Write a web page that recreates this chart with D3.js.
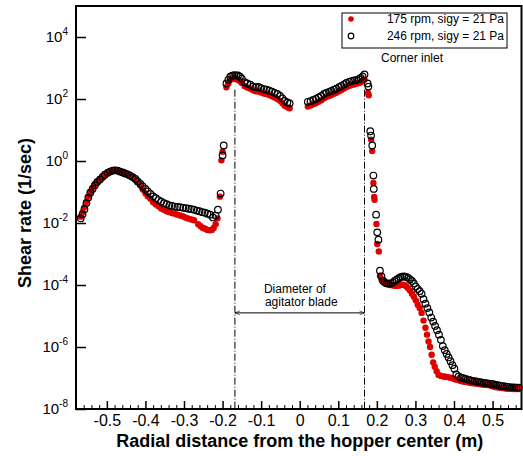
<!DOCTYPE html>
<html>
<head>
<meta charset="utf-8">
<script src="https://cdn.jsdelivr.net/npm/d3@7"></script>
<style>
  body { margin: 0; background: #fff; }
  text { font-family: "Liberation Sans", Arial, sans-serif; }
</style>
</head>
<body>
<div id="chart"></div>
<script>
// series 1: 175 rpm, sigy = 21 Pa  [radial distance (m), shear rate (1/sec)]
const rpm175 = [
  [-0.568, 1.6e-2], [-0.563, 2.2e-2], [-0.558, 3.2e-2], [-0.553, 4.8e-2], [-0.548, 7.1e-2],
  [-0.543, 0.100], [-0.537, 0.132], [-0.531, 0.174], [-0.525, 0.219], [-0.518, 0.263],
  [-0.511, 0.316], [-0.505, 0.372], [-0.498, 0.427], [-0.492, 0.468], [-0.485, 0.501],
  [-0.479, 0.513], [-0.472, 0.501], [-0.466, 0.468], [-0.459, 0.437], [-0.453, 0.407],
  [-0.446, 0.372], [-0.440, 0.331], [-0.433, 0.295], [-0.426, 0.251], [-0.420, 0.209],
  [-0.413, 0.166], [-0.407, 0.120], [-0.400, 0.0912], [-0.394, 0.0724], [-0.387, 0.0603],
  [-0.380, 0.0468], [-0.373, 0.0398], [-0.366, 0.0347], [-0.359, 0.0295], [-0.352, 0.0269],
  [-0.345, 0.0240], [-0.338, 0.0224], [-0.331, 0.0209], [-0.324, 0.0200], [-0.317, 0.0186],
  [-0.310, 0.0174], [-0.302, 0.0162], [-0.295, 0.0148], [-0.288, 0.0138], [-0.281, 0.0129],
  [-0.274, 0.0123], [-0.263, 9.1e-3], [-0.257, 7.9e-3], [-0.251, 6.9e-3], [-0.245, 6.5e-3],
  [-0.239, 6.0e-3], [-0.233, 5.8e-3], [-0.228, 6.0e-3], [-0.223, 6.9e-3], [-0.218, 9.1e-3],
  [-0.213, 0.0141], [-0.207, 0.0708], [-0.203, 1.05], [-0.200, 2.0],
  [-0.190, 240], [-0.185, 316], [-0.180, 417], [-0.175, 457], [-0.170, 457],
  [-0.165, 437], [-0.160, 417], [-0.155, 380], [-0.150, 331], [-0.143, 263],
  [-0.136, 234], [-0.128, 214], [-0.121, 191], [-0.114, 178], [-0.107, 174],
  [-0.100, 162], [-0.093, 151], [-0.086, 145], [-0.079, 135], [-0.072, 123],
  [-0.065, 112], [-0.058, 100], [-0.051, 87.1], [-0.045, 72.4], [-0.039, 60.3],
  [-0.032, 53.7], [-0.026, 50.1],
  [0.021, 57.5], [0.028, 61.7], [0.035, 67.6], [0.042, 72.4], [0.049, 81.3],
  [0.056, 91.2], [0.063, 105], [0.069, 115], [0.076, 126], [0.082, 135],
  [0.089, 148], [0.095, 158], [0.102, 178], [0.108, 195], [0.115, 219],
  [0.121, 245], [0.128, 263], [0.134, 282], [0.141, 295], [0.147, 309],
  [0.153, 324], [0.158, 347], [0.163, 380], [0.168, 417],
  [0.177, 158], [0.179, 132], [0.185, 4.9], [0.188, 2.09], [0.191, 0.195],
  [0.193, 0.0692], [0.194, 0.0562], [0.199, 9.3e-3], [0.201, 2.1e-3], [0.205, 1.2e-3],
  [0.208, 2.0e-4], [0.212, 1.51e-4], [0.216, 1.29e-4], [0.221, 1.17e-4], [0.226, 1.1e-4],
  [0.231, 1.05e-4], [0.236, 1.0e-4], [0.241, 9.8e-5], [0.246, 9.5e-5], [0.251, 9.5e-5],
  [0.256, 9.5e-5], [0.261, 1.0e-4], [0.266, 1.02e-4], [0.271, 1.0e-4], [0.276, 9.1e-5],
  [0.281, 7.9e-5], [0.286, 6.6e-5], [0.291, 5.2e-5], [0.296, 4.2e-5], [0.301, 3.2e-5],
  [0.306, 2.3e-5], [0.311, 1.8e-5], [0.316, 1.26e-5], [0.321, 7.1e-6], [0.326, 4.2e-6],
  [0.330, 2.5e-6], [0.334, 1.5e-6], [0.338, 1.0e-6], [0.342, 5.6e-7], [0.346, 3.2e-7],
  [0.350, 2.3e-7], [0.355, 1.66e-7], [0.360, 1.26e-7], [0.366, 1.17e-7], [0.372, 1.12e-7],
  [0.378, 1.1e-7], [0.384, 1.07e-7], [0.390, 1.02e-7], [0.396, 9.8e-8], [0.402, 9.1e-8],
  [0.408, 8.7e-8], [0.414, 8.3e-8], [0.420, 7.9e-8], [0.426, 7.6e-8], [0.432, 7.4e-8],
  [0.438, 7.1e-8], [0.444, 6.9e-8], [0.450, 6.8e-8], [0.456, 6.6e-8], [0.462, 6.5e-8],
  [0.468, 6.3e-8], [0.474, 6.2e-8], [0.480, 6.0e-8], [0.486, 5.9e-8], [0.492, 5.8e-8],
  [0.498, 5.5e-8], [0.504, 5.2e-8], [0.510, 5.0e-8], [0.516, 4.9e-8], [0.522, 4.8e-8],
  [0.528, 4.7e-8], [0.534, 4.6e-8], [0.540, 4.5e-8], [0.546, 4.5e-8], [0.552, 4.4e-8],
  [0.558, 4.4e-8], [0.564, 4.4e-8], [0.568, 4.4e-8]
];

// series 2: 246 rpm, sigy = 21 Pa
const rpm246 = [
  [-0.568, 1.4e-2], [-0.563, 1.9e-2], [-0.558, 2.8e-2], [-0.553, 4.4e-2], [-0.548, 6.6e-2],
  [-0.543, 9.5e-2], [-0.537, 0.126], [-0.531, 0.166], [-0.525, 0.209], [-0.518, 0.251],
  [-0.511, 0.309], [-0.505, 0.363], [-0.498, 0.417], [-0.492, 0.457], [-0.485, 0.490],
  [-0.479, 0.501], [-0.472, 0.490], [-0.466, 0.457], [-0.459, 0.427], [-0.453, 0.398],
  [-0.446, 0.372], [-0.440, 0.339], [-0.433, 0.302], [-0.426, 0.263], [-0.420, 0.219],
  [-0.413, 0.182], [-0.407, 0.151], [-0.400, 0.126], [-0.394, 0.105], [-0.387, 0.0871],
  [-0.380, 0.0724], [-0.373, 0.0631], [-0.366, 0.0550], [-0.359, 0.0490], [-0.352, 0.0437],
  [-0.345, 0.0407], [-0.338, 0.0372], [-0.331, 0.0355], [-0.324, 0.0339], [-0.317, 0.0331],
  [-0.310, 0.0324], [-0.302, 0.0309], [-0.295, 0.0302], [-0.288, 0.0288], [-0.281, 0.0282],
  [-0.274, 0.0269], [-0.267, 0.0251], [-0.260, 0.0240], [-0.253, 0.0224], [-0.246, 0.0214],
  [-0.239, 0.0200], [-0.232, 0.0186], [-0.225, 0.0151], [-0.218, 0.0174], [-0.212, 0.0269],
  [-0.205, 0.0891], [-0.200, 1.51], [-0.197, 3.16],
  [-0.190, 316], [-0.185, 417], [-0.180, 525], [-0.175, 562], [-0.170, 589],
  [-0.165, 575], [-0.160, 575], [-0.155, 525], [-0.150, 457], [-0.143, 347],
  [-0.136, 316], [-0.128, 288], [-0.121, 251], [-0.114, 240], [-0.107, 245],
  [-0.100, 224], [-0.093, 209], [-0.086, 200], [-0.079, 186], [-0.072, 174],
  [-0.065, 158], [-0.058, 145], [-0.051, 126], [-0.045, 105], [-0.039, 87.1],
  [-0.032, 77.6], [-0.026, 72.4],
  [0.021, 81.3], [0.028, 85.1], [0.035, 93.3], [0.042, 100], [0.049, 112],
  [0.056, 126], [0.063, 145], [0.069, 158], [0.076, 170], [0.082, 182],
  [0.089, 200], [0.095, 214], [0.102, 240], [0.108, 263], [0.115, 295],
  [0.121, 331], [0.128, 355], [0.134, 380], [0.141, 398], [0.147, 407],
  [0.153, 437], [0.158, 479], [0.163, 537], [0.168, 617],
  [0.176, 316], [0.178, 251], [0.183, 9.12], [0.185, 6.61], [0.188, 3.16],
  [0.191, 0.339], [0.192, 0.126], [0.198, 0.0186], [0.201, 5.0e-3], [0.204, 2.9e-3],
  [0.208, 2.9e-4], [0.212, 1.9e-4], [0.216, 1.38e-4], [0.221, 1.2e-4], [0.226, 1.12e-4],
  [0.231, 1.1e-4], [0.236, 1.12e-4], [0.241, 1.2e-4], [0.246, 1.35e-4], [0.251, 1.48e-4],
  [0.256, 1.62e-4], [0.261, 1.78e-4], [0.266, 1.86e-4], [0.271, 1.9e-4], [0.276, 1.82e-4],
  [0.281, 1.7e-4], [0.286, 1.51e-4], [0.291, 1.35e-4], [0.296, 1.12e-4], [0.301, 8.9e-5],
  [0.306, 7.4e-5], [0.311, 6.3e-5], [0.316, 5.2e-5], [0.321, 3.5e-5], [0.326, 2.5e-5],
  [0.331, 1.8e-5], [0.336, 1.3e-5], [0.341, 8.9e-6], [0.346, 6.6e-6], [0.351, 4.8e-6],
  [0.356, 3.5e-6], [0.361, 2.5e-6], [0.366, 1.7e-6], [0.371, 1.07e-6], [0.376, 7.9e-7],
  [0.381, 6.0e-7], [0.386, 4.6e-7], [0.391, 3.5e-7], [0.396, 2.6e-7], [0.401, 2.0e-7],
  [0.406, 1.3e-7], [0.412, 1.12e-7], [0.418, 1.02e-7], [0.424, 9.8e-8], [0.430, 9.3e-8],
  [0.436, 8.9e-8], [0.442, 8.5e-8], [0.448, 8.1e-8], [0.454, 7.9e-8], [0.460, 7.6e-8],
  [0.466, 7.4e-8], [0.472, 7.2e-8], [0.478, 6.9e-8], [0.484, 6.8e-8], [0.490, 6.6e-8],
  [0.496, 6.5e-8], [0.502, 6.3e-8], [0.508, 6.0e-8], [0.514, 5.9e-8], [0.520, 5.6e-8],
  [0.526, 5.5e-8], [0.532, 5.4e-8], [0.538, 5.2e-8], [0.544, 5.1e-8], [0.550, 5.0e-8],
  [0.556, 5.0e-8], [0.562, 4.9e-8], [0.568, 4.9e-8]
];

const seriesLabels = ["175 rpm, sigy = 21 Pa", "246 rpm, sigy = 21 Pa"];
const xMajorTicks = [-0.5, -0.4, -0.3, -0.2, -0.1, 0, 0.1, 0.2, 0.3, 0.4, 0.5];
const yTickExponents = [-8, -6, -4, -2, 0, 2, 4];
const bladeEdges = [-0.168, 0.168];   // agitator blade edges (m)
const bladeArrowLevel = 1.26e-5;      // height of the dimension arrow
const bladeLineTop = 200;             // dash-dot lines start just under the peak
const bladeNote = ["Diameter of", "agitator blade"];

// layout
const W = 523, H = 456;
const margin = { top: 6, right: 1.5, bottom: 47, left: 76 };
const width = W - margin.left - margin.right;
const height = H - margin.top - margin.bottom;

const svg = d3.select("#chart").append("svg")
  .attr("width", W).attr("height", H);

const g = svg.append("g")
  .attr("transform", `translate(${margin.left},${margin.top})`);

const x = d3.scaleLinear().domain([-0.58, 0.575]).range([0, width]);
const y = d3.scaleLog().domain([1e-8, 1e5]).range([height, 0]);

// x axis: inward major + minor ticks
const xMinor = d3.range(-56, 58, 2).map(d => d / 100).filter(d => !xMajorTicks.some(m => Math.abs(m - d) < 1e-9));
g.append("g")
  .attr("transform", `translate(0,${height})`)
  .call(d3.axisBottom(x).tickValues(xMinor).tickSize(-4).tickFormat(""))
  .call(a => a.select(".domain").remove())
  .call(a => a.selectAll("line").attr("stroke-width", 1));

g.append("g")
  .attr("transform", `translate(0,${height})`)
  .call(d3.axisBottom(x).tickValues(xMajorTicks).tickSize(-8).tickPadding(6)
    .tickFormat(d => d === 0 ? "0" : d3.format(".1f")(d).replace("−", "-")))
  .call(a => a.select(".domain").remove())
  .call(a => a.selectAll("line").attr("stroke-width", 1.5))
  .call(a => a.selectAll("text").attr("font-size", 16).attr("fill", "#000")
    .attr("font-family", "Liberation Sans, Arial, sans-serif"));

// y axis: inward ticks, labels as 10^n
g.append("g")
  .call(d3.axisLeft(y).tickValues(yTickExponents.map(e => Math.pow(10, e))).tickSize(-10).tickFormat(""))
  .call(a => a.select(".domain").remove())
  .call(a => a.selectAll("line").attr("stroke-width", 1.5));

const yLab = g.append("g");
yTickExponents.forEach(e => {
  const t = yLab.append("text")
    .attr("x", -8)
    .attr("y", y(Math.pow(10, e)) + 5)
    .attr("text-anchor", "end")
    .attr("font-size", 15);
  t.append("tspan").text("10");
  t.append("tspan").attr("dy", -7).attr("font-size", 10).text(e);
});

// frame
g.append("rect")
  .attr("width", width).attr("height", height)
  .attr("fill", "none").attr("stroke", "#000").attr("stroke-width", 2);

// blade annotation
g.selectAll(".blade")
  .data(bladeEdges)
  .join("line")
  .attr("class", "blade")
  .attr("x1", d => x(d)).attr("x2", d => x(d))
  .attr("y1", y(bladeLineTop)).attr("y2", height)
  .attr("stroke", "#000").attr("stroke-width", 1)
  .attr("stroke-dasharray", "7,2,1,2");

svg.append("defs").append("marker")
  .attr("id", "arr")
  .attr("viewBox", "0 0 10 10")
  .attr("refX", 10).attr("refY", 5)
  .attr("markerWidth", 7).attr("markerHeight", 5)
  .attr("orient", "auto-start-reverse")
  .append("path").attr("d", "M0,1L10,5L0,9").attr("fill", "none").attr("stroke", "#000").attr("stroke-width", 1.2);

g.append("line")
  .attr("x1", x(bladeEdges[0])).attr("x2", x(bladeEdges[1]))
  .attr("y1", y(bladeArrowLevel)).attr("y2", y(bladeArrowLevel))
  .attr("stroke", "#000").attr("stroke-width", 1)
  .attr("marker-start", "url(#arr)").attr("marker-end", "url(#arr)");

bladeNote.forEach((s, i) => {
  g.append("text")
    .attr("x", x(bladeEdges[0]) + 29 + i)
    .attr("y", y(bladeArrowLevel) - 20 + i * 13)
    .attr("font-size", 12)
    .text(s);
});

// data points
g.append("g").selectAll("circle")
  .data(rpm175)
  .join("circle")
  .attr("cx", d => x(d[0])).attr("cy", d => y(d[1]))
  .attr("r", 3.2)
  .attr("fill", "#e00000");

g.append("g").selectAll("circle")
  .data(rpm246)
  .join("circle")
  .attr("cx", d => x(d[0])).attr("cy", d => y(d[1]))
  .attr("r", 3.3)
  .attr("fill", "none")
  .attr("stroke", "#000").attr("stroke-width", 1.2);

// legend
const leg = svg.append("g");
leg.append("rect")
  .attr("x", 342).attr("y", 13).attr("width", 165).attr("height", 35)
  .attr("fill", "#fff").attr("stroke", "#000").attr("stroke-width", 1);
leg.append("circle").attr("cx", 351).attr("cy", 19).attr("r", 2.8).attr("fill", "#e00000");
leg.append("circle").attr("cx", 351).attr("cy", 36).attr("r", 2.8)
  .attr("fill", "none").attr("stroke", "#000").attr("stroke-width", 1.2);
seriesLabels.forEach((s, i) => {
  leg.append("text")
    .attr("x", 504).attr("y", 23 + i * 17)
    .attr("text-anchor", "end").attr("font-size", 12)
    .text(s);
});
svg.append("text")
  .attr("x", 412).attr("y", 62)
  .attr("text-anchor", "middle").attr("font-size", 12)
  .text("Corner inlet");

// axis titles
svg.append("text")
  .attr("x", margin.left + x(0)).attr("y", 447)
  .attr("text-anchor", "middle")
  .attr("font-size", 18).attr("font-weight", "bold")
  .text("Radial distance from the hopper center (m)");

svg.append("text")
  .attr("transform", "translate(31,213) rotate(-90)")
  .attr("text-anchor", "middle")
  .attr("font-size", 18).attr("font-weight", "bold")
  .text("Shear rate (1/sec)");
</script>
</body>
</html>
